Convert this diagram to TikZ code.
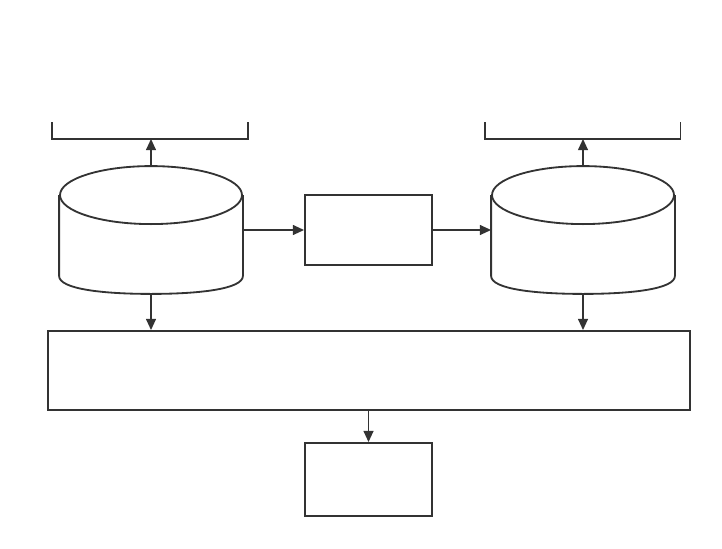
\documentclass[tikz,border=0pt]{standalone}
\usepackage{tikz}
\usetikzlibrary{arrows.meta,positioning}

\definecolor{ink}{HTML}{333333}

% cylinder outline drawn round an (invisible) node
\newcommand{\drawdrum}[1]{%
  \draw ([yshift=-0.725cm]#1.north) ellipse [x radius=2.275cm, y radius=0.725cm];
  \draw ([yshift=-0.725cm]#1.north west) -- ([yshift=0.45cm]#1.south west)
        .. controls ([yshift=0.12cm]#1.south west) and ([xshift=1.1cm]#1.south west) .. (#1.south)
        .. controls ([xshift=-1.1cm]#1.south east) and ([yshift=0.12cm]#1.south east) .. ([yshift=0.45cm]#1.south east)
        -- ([yshift=-0.725cm]#1.north east);
}

\begin{document}
\begin{tikzpicture}[
    line width=1.3pt, draw=ink, color=ink,
    box/.style={draw, rectangle, inner sep=0pt},
    drum/.style={rectangle, inner sep=0pt, minimum width=4.55cm, minimum height=3.15cm},
    tray/.style={rectangle, inner sep=0pt, minimum width=4.85cm, minimum height=0.375cm},
    flow/.style={-{Triangle[length=8pt,width=7pt]}}
]

\useasboundingbox (0,0) rectangle (18.05,13.7);

% stores
\node[drum] (lcyl) at (3.775, 7.95) {};
\node[drum] (rcyl) at (14.575, 7.95) {};
\drawdrum{lcyl}
\drawdrum{rcyl}

% open trays on top
\node[tray] (ltray) at (3.75, 10.4375) {};
\node[tray] (rtray) at (14.5625, 10.4375) {};
\draw (ltray.north west) -- (ltray.south west) -- (ltray.south east) -- (ltray.north east);
\draw (rtray.north west) -- (rtray.south west) -- (rtray.south east) -- (rtray.north east);

% boxes
\node[box, minimum width=3.175cm, minimum height=1.75cm] (mid) at (9.2125, 7.95) {};
\node[box, minimum width=16.05cm, minimum height=1.975cm] (wide) at (9.225, 4.4375) {};
\node[box, minimum width=3.175cm, minimum height=1.825cm] (low) at (9.2125, 1.7125) {};

% arrows
\draw[flow] (lcyl.north) -- (lcyl.north |- ltray.south);
\draw[flow] (rcyl.north) -- (rcyl.north |- rtray.south);
\draw[flow] (lcyl.east) -- (mid.west);
\draw[flow] (mid.east) -- (rcyl.west);
\draw[flow] (lcyl.south) -- (lcyl.south |- wide.north);
\draw[flow] (rcyl.south) -- (rcyl.south |- wide.north);
\draw[flow] (wide.south -| low.north) -- (low.north);

\end{tikzpicture}
\end{document}
